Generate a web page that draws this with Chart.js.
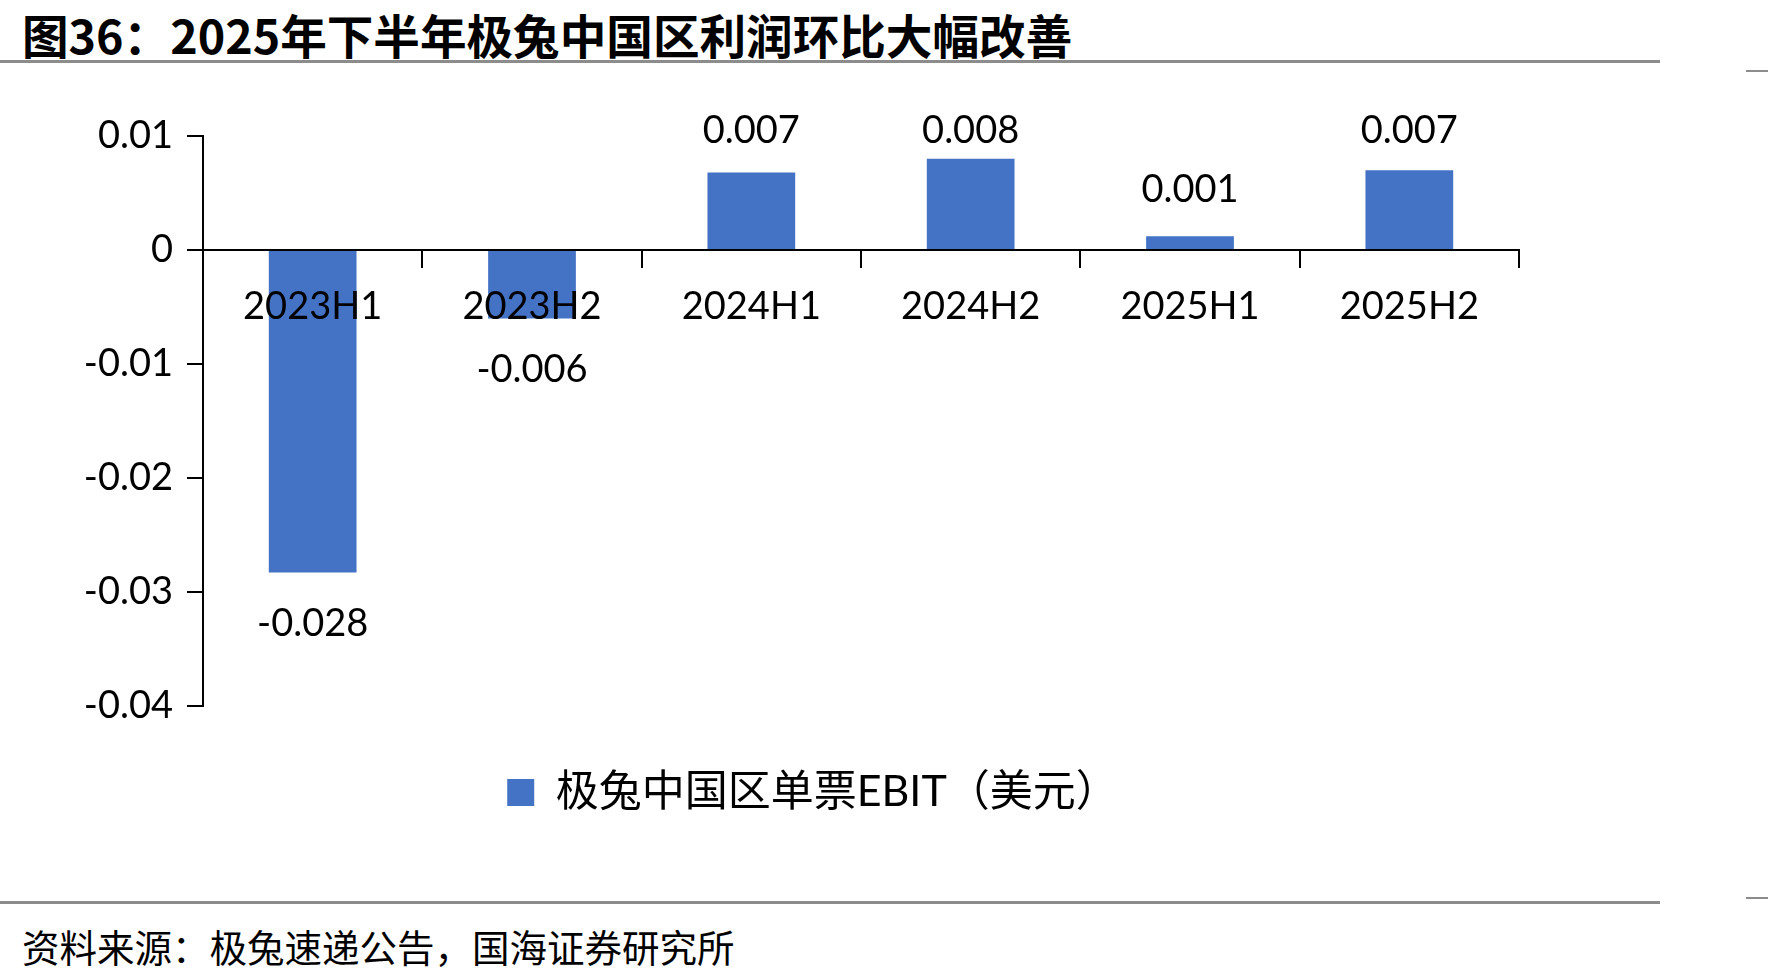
<!DOCTYPE html>
<html>
<head>
<meta charset="utf-8">
<script src="https://cdn.jsdelivr.net/npm/chart.js@4.4.1/dist/chart.umd.min.js"></script>
<style>
  body { margin: 0; background: #fff; width: 1768px; height: 975px; overflow: hidden; position: relative; }
  .title { position: absolute; left: 22px; top: 0; line-height: 60px; font: bold 46.6px "Noto Sans CJK SC", sans-serif; color: #000; white-space: nowrap; }
  .rule { position: absolute; background: #8c8c8c; }
  .note { position: absolute; left: 22px; top: 918px; line-height: 50px; font: 37.5px "Noto Sans CJK SC", sans-serif; color: #000; white-space: nowrap; }
  #wrap { position: absolute; left: 70px; top: 70px; width: 1454px; height: 830px; }
</style>
</head>
<body>
<div class="title">图36：2025年下半年极兔中国区利润环比大幅改善</div>
<div class="rule" style="left:0;top:60px;width:1660px;height:3px"></div>
<div class="rule" style="left:1746px;top:70px;width:22px;height:2px"></div>
<div id="wrap"><canvas id="ebitChart"></canvas></div>
<div class="rule" style="left:0;top:901px;width:1660px;height:3px"></div>
<div class="rule" style="left:1746px;top:897px;width:22px;height:2px"></div>
<div class="note">资料来源：极兔速递公告，国海证券研究所</div>
<script>
Chart.defaults.font.family = "Lato, 'Noto Sans CJK SC', sans-serif";
Chart.defaults.color = "#000";

const periods = ["2023H1", "2023H2", "2024H1", "2024H2", "2025H1", "2025H2"];
const ebitPerParcel = [-0.0283, -0.0060, 0.0068, 0.0080, 0.0012, 0.0070];
const seriesName = "极兔中国区单票EBIT（美元）";

// value labels: above positive bars (kept inside the top), below negative ones
const barLabels = {
  id: "barLabels",
  afterDatasetsDraw(chart) {
    const ctx = chart.ctx;
    const meta = chart.getDatasetMeta(0);
    ctx.save();
    ctx.font = "38px Lato";
    ctx.fillStyle = "#000";
    ctx.textAlign = "center";
    ctx.textBaseline = "middle";
    meta.data.forEach((bar, i) => {
      const v = ebitPerParcel[i];
      let y;
      if (v >= 0) {
        y = Math.max(bar.y - 47, chart.chartArea.top - 5);
      } else {
        y = bar.y + 51;
      }
      ctx.fillText(v.toFixed(3), bar.x, y);
    });
    ctx.restore();
  }
};

// nudge the legend a little to the right, as in the original
const legendShift = {
  id: "legendShift",
  afterLayout(chart) {
    chart.legend.left += 12;
    chart.legend.right += 12;
  }
};

const data = {
  labels: periods,
  datasets: [
    {
      label: seriesName,
      data: ebitPerParcel,
      backgroundColor: "#4472C4",
      borderWidth: 0,
      barPercentage: 0.4,
      categoryPercentage: 1.0,
    },
  ],
};

const config = {
  type: "bar",
  data: data,
  options: {
    responsive: true,
    maintainAspectRatio: false,
    animation: false,
    layout: { padding: { top: 66, bottom: 76, left: 13, right: 5 } },
    plugins: {
      legend: {
        position: "bottom",
        labels: {
          boxWidth: 27,
          boxHeight: 27,
          padding: 65,
          font: { size: 43 },
        },
      },
      tooltip: { enabled: false },
    },
    scales: {
      x: {
        position: { y: 0 },
        grid: { offset: true, drawOnChartArea: false, drawTicks: true, tickLength: 17, color: "#000", lineWidth: 2 },
        border: { color: "#000", width: 2, z: 1 },
        ticks: { font: { size: 38 }, padding: 17, z: 1, maxRotation: 0 },
      },
      y: {
        min: -0.04,
        max: 0.01,
        afterFit: (s) => { s.width = 120; },
        grid: { drawOnChartArea: false, drawTicks: true, tickLength: 16, color: "#000", lineWidth: 2 },
        border: { color: "#000", width: 2 },
        ticks: {
          stepSize: 0.01,
          font: { size: 38 },
          padding: 14,
          callback: (v) => String(+v.toFixed(2)),
        },
      },
    },
  },
  plugins: [barLabels, legendShift],
};

const ctx = document.getElementById("ebitChart");
const ebitChart = new Chart(ctx, config);
</script>
</body>
</html>
